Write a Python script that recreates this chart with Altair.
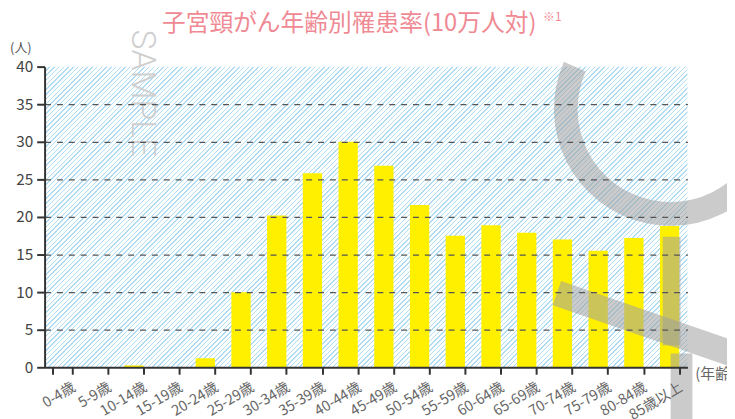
import math
import altair as alt
import pandas as pd

# ---------------- data ----------------
ages = ["0-4歳", "5-9歳", "10-14歳", "15-19歳", "20-24歳", "25-29歳", "30-34歳",
        "35-39歳", "40-44歳", "45-49歳", "50-54歳", "55-59歳", "60-64歳",
        "65-69歳", "70-74歳", "75-79歳", "80-84歳", "85歳以上"]
rates = [0, 0, 0.25, 0, 1.2, 10.0, 20.2, 25.8, 30.0, 26.8, 21.6, 17.5, 18.9,
         17.9, 17.0, 15.5, 17.2, 18.8]
y_ticks = [0, 5, 10, 15, 20, 25, 30, 35, 40]

title_text = "子宮頸がん年齢別罹患率(10万人対)"
note_text = "※1"
y_unit = "(人)"
x_unit = "(年齢)"
watermark = "SAMPLE"

# ---------------- layout / style ----------------
W, H = 650, 304
FONT = "Noto Sans CJK JP"
BAR = "#fff000"
AXIS = "#333333"
PINK = "#ef8993"

df = pd.DataFrame({"age": ages, "rate": rates})

# diagonal hatch via a striped linear gradient (45deg in pixel space)
r = H / W
gdx = (1 + r) / (1 + r * r)
gdy = r * gdx
n_stripes = 199
duty = 0.3
STRIPE = "#b0dcf4"
stops = []
for k in range(n_stripes):
    o = k / n_stripes
    m = (k + duty) / n_stripes
    e = (k + 1) / n_stripes
    stops += [
        {"offset": round(o, 6), "color": STRIPE},
        {"offset": round(m, 6), "color": STRIPE},
        {"offset": round(m, 6), "color": "#ffffff"},
        {"offset": round(e, 6), "color": "#ffffff"},
    ]
hatch_fill = alt.LinearGradient(gradient="linear", stops=stops,
                                x1=0, y1=0, x2=gdx, y2=gdy)

one = pd.DataFrame({"k": [0]})

hatch = alt.Chart(one).mark_rect(fill=hatch_fill).encode(
    x=alt.value(0), x2=alt.value(W), y=alt.value(0), y2=alt.value(H)
)

bars = alt.Chart(df).mark_bar(color=BAR).encode(
    x=alt.X("age:N", sort=ages,
            scale=alt.Scale(paddingInner=0.46, paddingOuter=0.23),
            axis=alt.Axis(title=None, labelAngle=-31, labelAlign="right",
                          labelBaseline="top", labelFontSize=14.5,
                          labelColor="#666666", labelFont=FONT,
                          labelPadding=6, labelOffset=8,
                          tickBand="extent", tickSize=7, tickWidth=2,
                          tickColor=AXIS, domainColor=AXIS, domainWidth=2,
                          grid=False, zindex=1)),
    y=alt.Y("rate:Q", scale=alt.Scale(domain=[0, 40], nice=False),
            axis=alt.Axis(title=None, values=y_ticks, tickSize=8,
                          tickWidth=2, tickColor=AXIS, domainColor=AXIS,
                          domainWidth=2, labelFontSize=15.5,
                          labelColor="#444444", labelFont=FONT,
                          labelPadding=4, grid=True, gridColor="#555555",
                          gridDash=[6, 6], gridWidth=1.2,
                          gridOpacity={"condition": {"test": "datum.value > 0 && datum.value < 40", "value": 1}, "value": 0},
                          zindex=1)),
)

WM = "#a0a0a0"
WMO = 0.55
wm_arc = alt.Chart(one).mark_arc(theta=math.pi / 2, theta2=5.13, radius=118,
                                 radius2=94, color=WM, opacity=WMO).encode(
    x=alt.value(633), y=alt.value(43)
)
wm_diag = alt.Chart(one).mark_rule(strokeWidth=26, color=WM, opacity=WMO,
                                   strokeCap="butt").encode(
    x=alt.value(518), y=alt.value(229), x2=alt.value(715), y2=alt.value(297)
)
wm_v1 = alt.Chart(one).mark_rule(strokeWidth=18, color=WM, opacity=WMO,
                                 strokeCap="butt").encode(
    x=alt.value(634), y=alt.value(172), y2=alt.value(282)
)
wm_v2 = alt.Chart(one).mark_rule(strokeWidth=22, color=WM, opacity=WMO,
                                 strokeCap="butt").encode(
    x=alt.value(644), y=alt.value(290), y2=alt.value(370)
)
wm_text = alt.Chart(pd.DataFrame({"t": [watermark]})).mark_text(
    angle=90, fontSize=34, font="Roboto", fontWeight=300, color="#cfcfcf"
).encode(text="t:N", x=alt.value(98), y=alt.value(27))

title = alt.Chart(pd.DataFrame({"t": [title_text]})).mark_text(
    fontSize=24, font=FONT, color=PINK, align="center", baseline="middle"
).encode(text="t:N", x=alt.value(308), y=alt.value(-43))
note = alt.Chart(pd.DataFrame({"t": [note_text]})).mark_text(
    fontSize=12, font=FONT, color=PINK, align="left", baseline="middle"
).encode(text="t:N", x=alt.value(504), y=alt.value(-50))
yunit = alt.Chart(pd.DataFrame({"t": [y_unit]})).mark_text(
    fontSize=13, font=FONT, color="#555555", align="center", baseline="middle"
).encode(text="t:N", x=alt.value(-24), y=alt.value(-19))
xunit = alt.Chart(pd.DataFrame({"t": [x_unit]})).mark_text(
    fontSize=15, font=FONT, color="#666666", align="left", baseline="middle"
).encode(text="t:N", x=alt.value(658), y=alt.value(311))

chart = alt.layer(
    hatch, bars, wm_text, wm_arc, wm_diag, wm_v1, wm_v2, title, note, yunit, xunit
).properties(
    width=W, height=H,
    padding={"left": 37, "top": 57, "right": 40, "bottom": 50},
    autosize=alt.AutoSizeParams(type="none"),
).configure_view(stroke=None)

chart.save("out.html", embed_options={"renderer": "svg", "actions": False})
